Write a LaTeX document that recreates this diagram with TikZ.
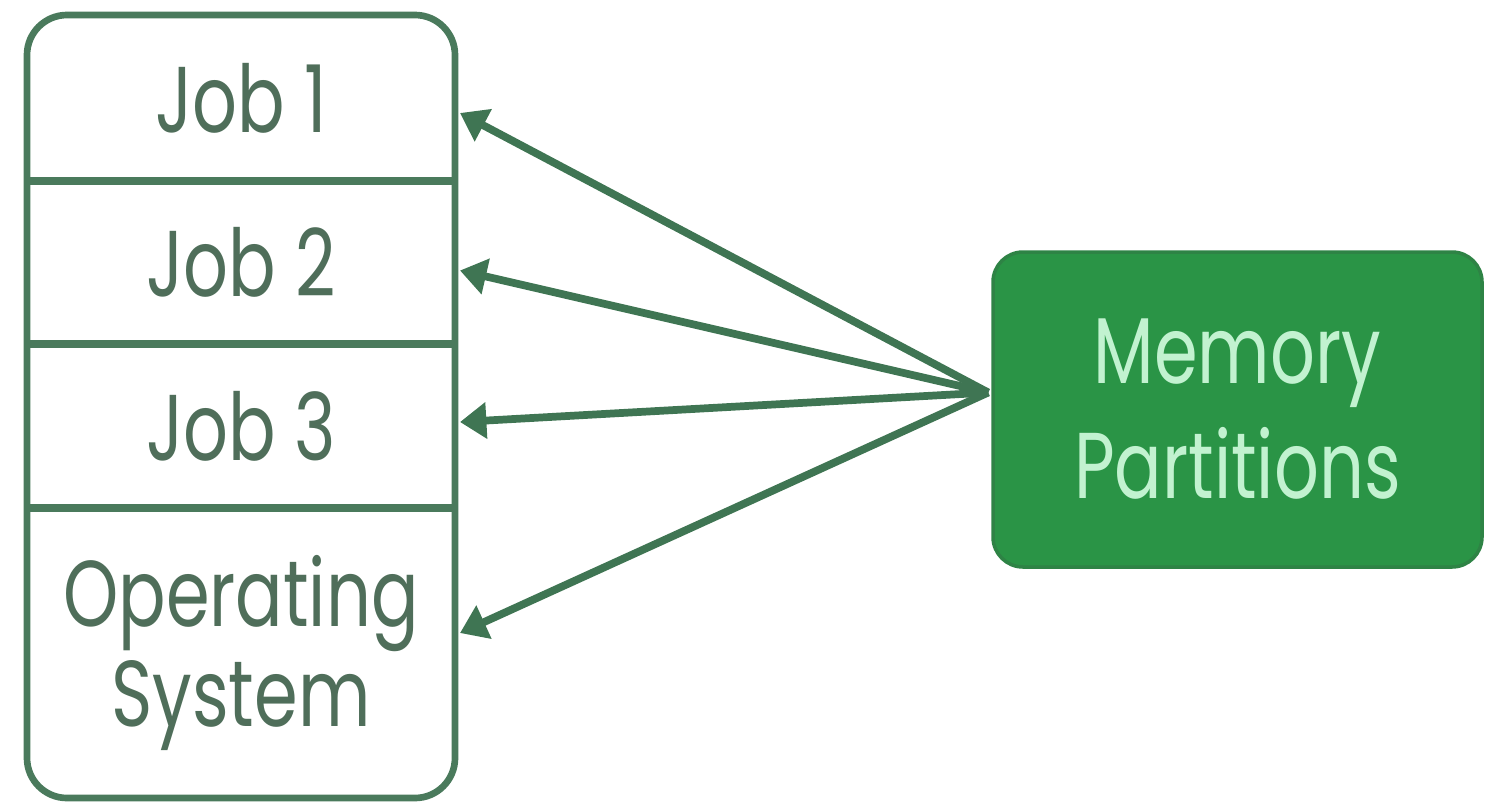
\documentclass[tikz,border=0pt]{standalone}
\usepackage{fontspec}
\setmainfont{Poppins}
\usetikzlibrary{calc,arrows.meta}
\definecolor{framec}{HTML}{4A7A5C}
\definecolor{arrowc}{HTML}{3F7553}
\definecolor{jobtext}{HTML}{4F6E5A}
\definecolor{mpfill}{HTML}{2A9446}
\definecolor{mpedge}{HTML}{2E8345}
\definecolor{mptext}{HTML}{C2F2D0}
% tall lettering
\newcommand{\talltext}[1]{\scalebox{1}[1.33]{#1}}

\begin{document}
\begin{tikzpicture}[
  section/.style={minimum width=4.28cm, inner sep=0pt, outer sep=0pt,
    text=jobtext, font=\fontsize{20}{28.5}\selectfont},
  partbox/.style={rounded corners=0.3cm, fill=mpfill, draw=mpedge, line width=1pt,
    minimum width=4.89cm, minimum height=3.15cm, inner sep=0pt,
    text=mptext, align=center, font=\fontsize{20}{32.7}\selectfont},
  link/.style={draw=arrowc, line width=2.2pt, -{Triangle[length=7.5pt,width=10pt]}},
  divider/.style={draw=framec, line width=2.2pt},
]
\useasboundingbox (0,0) rectangle (14.87,-8.08);

% memory stack sections
\node[section, minimum height=1.66cm] (job1) at (2.41,-0.98) {\talltext{Job 1}};
\node[section, minimum height=1.63cm] (job2) at (2.41,-2.625) {\talltext{Job 2}};
\node[section, minimum height=1.64cm] (job3) at (2.41,-4.26) {\talltext{Job 3}};
\node[section, minimum height=2.90cm, align=center] (os) at (2.41,-6.53)
  {\talltext{Operating}\\\talltext{System}};

% outer frame and dividers
\draw[framec, line width=1.9pt, rounded corners=0.4cm]
  (job1.north west) rectangle (os.south east);
\draw[divider] (job1.south west) -- (job1.south east);
\draw[divider] (job2.south west) -- (job2.south east);
\draw[divider] (job3.south west) -- (job3.south east);

% partition box
\node[partbox] (mp) at (12.375,-4.095) {\talltext{Memory}\\\talltext{Partitions}};
\coordinate (hub) at ($(mp.west)+(-0.03,0.17)$);

% arrows to each section
\draw[link] (hub) -- ($(job1.east)+(0.05,-0.15)$);
\draw[link] (hub) -- ($(job2.east)+(0.05,-0.08)$);
\draw[link] (hub) -- ($(job3.east)+(0.05,0.04)$);
\draw[link] (hub) -- ($(os.east)+(0.05,0.20)$);
\end{tikzpicture}
\end{document}
